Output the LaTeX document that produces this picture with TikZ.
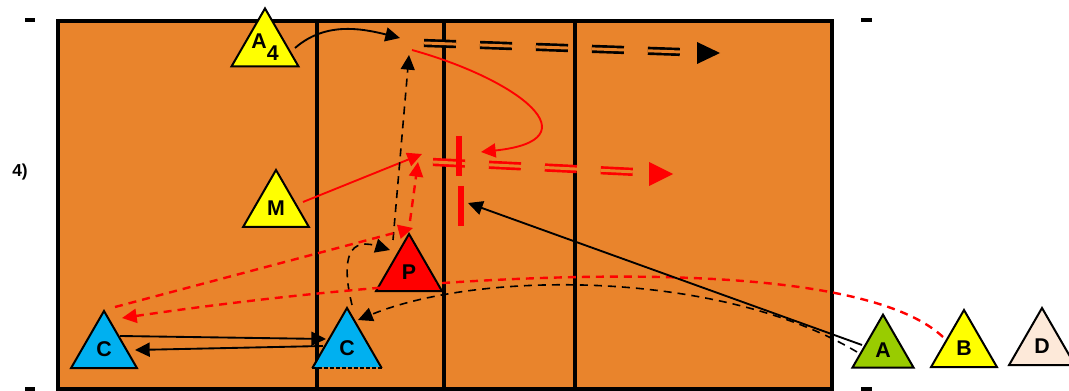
\documentclass[tikz,border=0pt]{standalone}
\usepackage{fontspec}
\setmainfont{Liberation Sans}
\usetikzlibrary{arrows.meta,shapes.geometric}
\definecolor{court}{RGB}{233,132,44}
\definecolor{cblue}{RGB}{0,176,240}
\definecolor{cgreen}{RGB}{153,204,0}
\definecolor{cyellow}{RGB}{255,255,0}
\definecolor{cred}{RGB}{255,0,0}
\definecolor{cpeach}{RGB}{253,233,217}
\begin{document}
\begin{tikzpicture}[x=0.75pt,y=-0.75pt,
  tri/.style={regular polygon, regular polygon sides=3, minimum size=57pt, inner sep=0pt, draw=black, line width=1.5pt, font=\fontsize{16}{16}\selectfont\bfseries},
  arr/.style={-{Triangle[length=11pt,width=10.5pt]}, line width=1.4pt},
  dsh/.style={dash pattern=on 6pt off 4.5pt},
  dbl/.style={line width=2pt, double distance=2.2pt, dash pattern=on 24pt off 18pt},
  courtline/.style={line width=3pt},
  tick/.style={line width=2.4pt},
  bar/.style={line width=5pt, cred}
]
\useasboundingbox (0,0) rectangle (1069,391);
\clip (0,0) rectangle (1069,391);
% court
\fill[court] (58,21) rectangle (832,389);
\draw[line width=3pt] (58,21) rectangle (832,389);
\foreach \x in {317,444,575} \draw[courtline] (\x,21) -- (\x,389);
% ticks
\draw[tick] (25,20) -- (35,20);
\draw[tick] (861,20) -- (872,20);
\draw[tick] (25,389) -- (35,389);
\draw[tick] (861,389) -- (872,389);
% label
\node[font=\fontsize{13}{13}\selectfont\bfseries] (lab) at (20,172) {4)};
% players
\node[tri, fill=cyellow] (A4) at (265,47) {A\raisebox{-9pt}{4}};
\node[tri, fill=cyellow] (M) at (276,208) {M};
\node[tri, fill=cred] (P) at (409,272) {P};
\node[tri, fill=cblue] (C1) at (104,349) {C};
\node[tri, draw=none, fill=cblue] (C2) at (347,348) {C};
\draw[line width=1.5pt] (C2.corner 2) -- (C2.corner 1) -- (C2.corner 3);
\draw[line width=1.5pt, dash pattern=on 3pt off 1.5pt] (C2.corner 2) -- (C2.corner 3);
\node[tri, fill=cgreen, minimum size=53pt] (A) at (883,350) {A};
\node[tri, fill=cyellow] (B) at (964,348) {B};
\node[tri, fill=cpeach] (D) at (1042,346) {D};
% coordinates
\coordinate (a4s) at (295,48);
\coordinate (a4e) at (400,38);
\coordinate (k1) at (424,43);
\coordinate (k2) at (682,52);
\coordinate (r1) at (433,162);
\coordinate (r2) at (636,172);
\coordinate (ms) at (303,202);
\coordinate (me) at (422,154);
\coordinate (rc1) at (412,50);
\coordinate (rc2) at (481,152);
\coordinate (pu1) at (410,221);
\coordinate (pu2) at (418,162);
\coordinate (bd1) at (393,240);
\coordinate (bd2) at (409,55);
\coordinate (c2s) at (352,305);
\coordinate (c2e) at (390,250);
\coordinate (c1s) at (115,307);
\coordinate (c1e) at (413,228);
\coordinate (bs) at (943,337);
\coordinate (be) at (122,318);
\coordinate (as1) at (862,345);
\coordinate (ae1) at (468,203);
\coordinate (as2) at (857,352);
\coordinate (ae2) at (358,320);
\coordinate (cc1) at (120,336);
\coordinate (cc2) at (326,339);
\coordinate (cc3) at (323,346);
\coordinate (cc4) at (135,350);
% black double dashed with arrow
\draw[dbl, double=court] (k1) -- (k2);
\fill (697,42) -- (720,53) -- (697,64) -- cycle;
% red double dashed with arrow
\draw[dbl, cred, double=court] (r1) -- (r2);
\fill[cred] (649,162) -- (673,174) -- (649,186) -- cycle;
% red bars
\draw[bar] (459,136) -- (459,176);
\draw[bar] (461,186) -- (461,226);
% arrows
\draw[arr] (a4s) .. controls (325,22) and (360,28) .. (a4e);
\draw[arr, cred] (ms) -- (me);
\draw[arr, cred] (rc1) .. controls (520,80) and (595,140) .. (rc2);
\draw[arr, cred, dsh, line width=1.8pt] (pu1) -- (pu2);
\draw[arr, dsh, line width=1.2pt] (bd1) -- (bd2);
\draw[arr, dsh, line width=1.2pt] (c2s) .. controls (343,268) and (344,236) .. (c2e);
\draw[arr, cred, dsh, line width=1.8pt] (c1s) -- (c1e);
\draw[arr, cred, dsh, line width=1.8pt] (bs) .. controls (850,250) and (450,270) .. (be);
\draw[arr] (as1) -- (ae1);
\draw[arr, dsh, line width=1.2pt] (as2) .. controls (720,270) and (480,270) .. (ae2);
\draw[arr] (cc1) -- (cc2);
\draw[arr] (cc3) -- (cc4);
\end{tikzpicture}
\end{document}
